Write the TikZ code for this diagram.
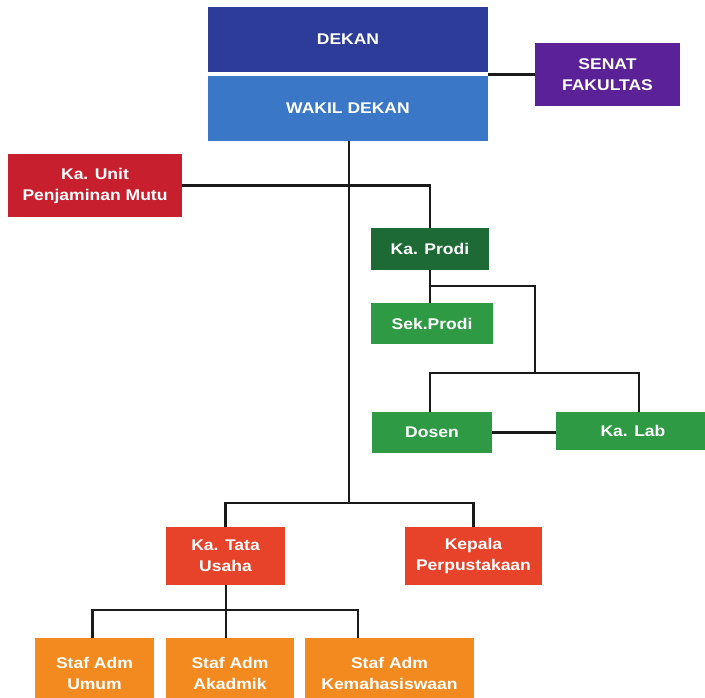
\documentclass[tikz,border=0pt]{standalone}
\usepackage{fontspec}
\setmainfont[FakeStretch=1.13]{Liberation Sans}
\usepackage{tikz}

\definecolor{dekanblue}{HTML}{2D3C98}
\definecolor{wakilblue}{HTML}{3A77C6}
\definecolor{senatpurple}{HTML}{5B2297}
\definecolor{unitred}{HTML}{C71F2E}
\definecolor{prodigreen}{HTML}{1D6A35}
\definecolor{staffgreen}{HTML}{2E9A44}
\definecolor{tatared}{HTML}{E6432A}
\definecolor{admorange}{HTML}{F28A1F}
\definecolor{linkgray}{HTML}{1A1A1A}

\begin{document}
\begin{tikzpicture}[x=1pt, y=-1pt,
  unitbox/.style={rectangle, fill=#1, text=white, inner sep=0pt, align=center,
    font=\fontsize{15.5}{21}\selectfont\bfseries},
  link/.style={draw=linkgray, line width=2.2pt}]

\clip (0,0) rectangle (705,697);
\fill[white] (0,0) rectangle (705,697);

% Pimpinan
\node[unitbox=dekanblue, minimum width=280pt, minimum height=65pt] (dekan) at (348, 39.5) {DEKAN};
\node[unitbox=wakilblue, minimum width=280pt, minimum height=65pt] (wakil) at (348, 108.5) {WAKIL DEKAN};
\node[unitbox=senatpurple, minimum width=145pt, minimum height=63pt] (senat) at (607.5, 74.5) {SENAT\\FAKULTAS};
\node[unitbox=unitred, minimum width=174pt, minimum height=63pt] (unit) at (95, 185.5) {Ka. Unit\\Penjaminan Mutu};

% Prodi
\node[unitbox=prodigreen, minimum width=118pt, minimum height=42pt] (prodi) at (430, 249) {Ka. Prodi};
\node[unitbox=staffgreen, minimum width=122pt, minimum height=41pt] (sek) at (432, 323.5) {Sek.Prodi};
\node[unitbox=staffgreen, minimum width=120pt, minimum height=41pt] (dosen) at (432, 432.5) {Dosen};
\node[unitbox=staffgreen, minimum width=154pt, minimum height=38pt] (lab) at (633, 431) {Ka. Lab};

% Tata usaha
\node[unitbox=tatared, minimum width=119pt, minimum height=58pt] (tata) at (225.5, 556) {Ka. Tata\\Usaha};
\node[unitbox=tatared, minimum width=137pt, minimum height=58pt] (pustaka) at (473.5, 556) {Kepala\\Perpustakaan};

% Staf adm
\node[unitbox=admorange, minimum width=119pt, minimum height=70pt] (umum) at (94.5, 673) {Staf Adm\\Umum};
\node[unitbox=admorange, minimum width=128pt, minimum height=70pt] (akad) at (230, 673) {Staf Adm\\Akadmik};
\node[unitbox=admorange, minimum width=169pt, minimum height=70pt] (kemhs) at (389.5, 673) {Staf Adm\\Kemahasiswaan};

\coordinate (tusplit) at (349, 503);
\coordinate (sekjoin) at (430, 286);
\coordinate (labsplit) at (535, 373);
\coordinate (stafsplit) at (226, 610);

% Garis
\draw[link] (senat.west) -- (senat.west -| dekan.east);
\draw[link] (wakil.south -| tusplit) -- (tusplit);
\draw[link] (unit.east) -| (prodi.north);
\draw[link] (prodi.south) -- (prodi.south |- sek.north);
\draw[link] (sekjoin) -| (labsplit);
\draw[link] (dosen.north -| sekjoin) |- (labsplit) -| ([xshift=6pt]lab.north);
\draw[link] (dosen.east) -- (dosen.east -| lab.west);
\draw[link] (tata.north) |- (tusplit) -| (pustaka.north);
\draw[link] (tata.south -| stafsplit) -- (stafsplit |- akad.north);
\draw[link] ([xshift=-2pt]umum.north) |- (stafsplit) -| ([xshift=53pt]kemhs.north west);
\end{tikzpicture}
\end{document}
